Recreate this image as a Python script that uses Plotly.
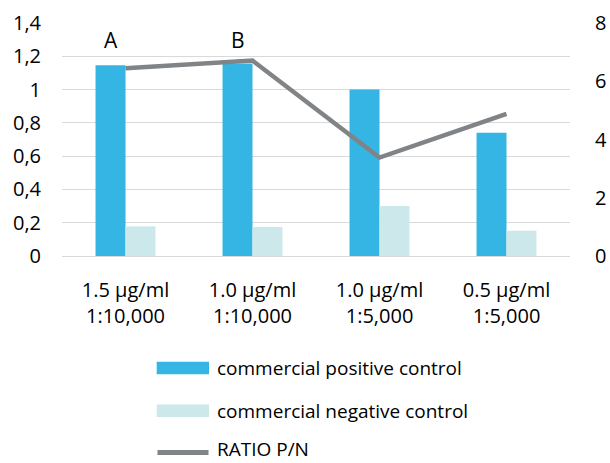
import plotly.graph_objects as go

# Coating concentration / conjugate dilution combinations
categories = [
    "1.5 µg/ml<br>1:10,000",
    "1.0 µg/ml<br>1:10,000",
    "1.0 µg/ml<br>1:5,000",
    "0.5 µg/ml<br>1:5,000",
]
positive_od = [1.146, 1.156, 1.0, 0.74]
negative_od = [0.178, 0.174, 0.30, 0.152]
ratio_pn = [6.45, 6.71, 3.38, 4.88]
point_labels = ["A", "B", "", ""]

legend_names = ["commercial positive control", "commercial negative control", "RATIO P/N"]

BLUE = "#35B5E3"
PALE = "#CDE8EA"
GREY = "#808487"
FONT = "Open Sans"

W, H = 610, 463
L, R, T, B = 62, 40, 23, 207
plot_w = W - L - R
plot_h = H - T - B


def px_x(x):
    return (x - L) / plot_w


def px_y(y):
    return (H - B - y) / plot_h


fig = go.Figure()
fig.add_trace(go.Bar(x=categories, y=positive_od, name=legend_names[0],
                     marker=dict(color=BLUE, line=dict(width=0)), showlegend=False))
fig.add_trace(go.Bar(x=categories, y=negative_od, name=legend_names[1],
                     marker=dict(color=PALE, line=dict(width=0)), showlegend=False))
fig.add_trace(go.Scatter(x=categories, y=ratio_pn, name=legend_names[2], yaxis="y2",
                         mode="lines", line=dict(color=GREY, width=4.5),
                         showlegend=False))

# Letter markers above the positive-control bars
for cat, lab, val in zip(categories, point_labels, positive_od):
    if lab:
        fig.add_annotation(x=cat, y=1.295, text=lab, showarrow=False, xshift=-15,
                           font=dict(family=FONT, size=21, color="#000000"))

# Legend drawn below the plot
shapes = []
rows_y = [368, 410.7, 452.5]
for i, (name, yy) in enumerate(zip(legend_names, rows_y)):
    if i < 2:
        shapes.append(dict(type="rect", xref="paper", yref="paper",
                           x0=px_x(156.7), x1=px_x(209), y0=px_y(yy + 6.3), y1=px_y(yy - 6.3),
                           fillcolor=[BLUE, PALE][i], line=dict(width=0)))
        text_y, anchor = px_y(yy), "middle"
    else:
        shapes.append(dict(type="line", xref="paper", yref="paper",
                           x0=px_x(157.5), x1=px_x(208.5), y0=px_y(yy), y1=px_y(yy),
                           line=dict(color=GREY, width=5)))
        # last row sits on the bottom edge of the figure
        text_y, anchor = px_y(H - 0.5), "bottom"
    fig.add_annotation(xref="paper", yref="paper", x=px_x(216), y=text_y,
                       xanchor="left", yanchor=anchor, text=name, showarrow=False,
                       borderpad=0,
                       font=dict(family=FONT, size=19, color="#000000"))

fig.update_layout(
    width=W, height=H,
    margin=dict(l=L, r=R, t=T, b=B, autoexpand=False),
    paper_bgcolor="white", plot_bgcolor="white",
    separators=",.",
    barmode="group", bargap=0.528, bargroupgap=0,
    font=dict(family=FONT, size=20, color="#000000"),
    shapes=shapes,
    xaxis=dict(showgrid=False, showline=False, ticks="", tickfont=dict(size=20),
               ticklabelstandoff=20, automargin=False),
    yaxis=dict(range=[0, 1.4], dtick=0.2, tick0=0, showgrid=True,
               gridcolor="#D9D9D9", gridwidth=1.3, zeroline=True,
               zerolinecolor="#D9D9D9", zerolinewidth=1.3, showline=False,
               ticks="outside", ticklen=16, tickcolor="rgba(0,0,0,0)",
               tickfont=dict(size=20), automargin=False),
    yaxis2=dict(range=[0, 8], dtick=2, tick0=0, overlaying="y", side="right",
                showgrid=False, zeroline=False, showline=False,
                ticks="outside", ticklen=20, tickcolor="rgba(0,0,0,0)",
                tickfont=dict(size=20), automargin=False),
)

fig.write_html("out.html")
